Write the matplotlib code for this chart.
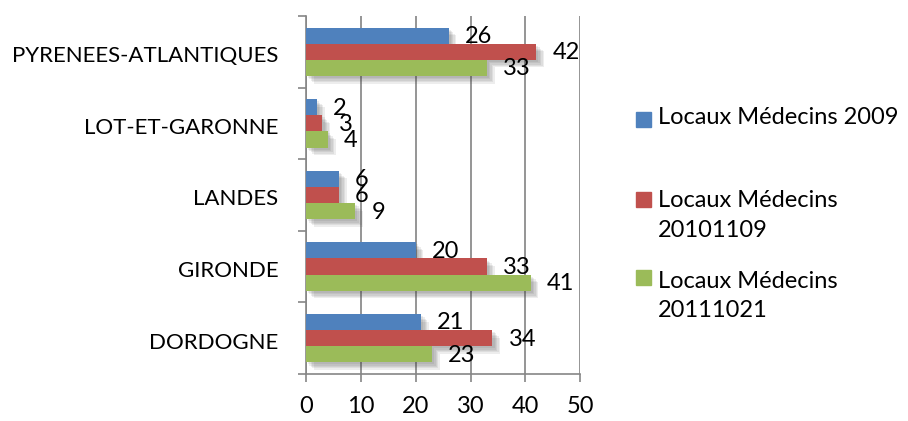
import matplotlib.pyplot as plt
import matplotlib.patheffects as pe
import matplotlib.transforms as mtransforms
from matplotlib.patches import Rectangle
import numpy as np

plt.rcParams['font.family'] = ['Lato', 'DejaVu Sans']

# departements, bottom to top
departements = ['DORDOGNE', 'GIRONDE', 'LANDES', 'LOT-ET-GARONNE', 'PYRENEES-ATLANTIQUES']
series_names = ['Locaux Médecins 2009', 'Locaux Médecins\n20101109', 'Locaux Médecins\n20111021']
locaux_2009 = [21, 20, 6, 2, 26]
locaux_20101109 = [34, 33, 6, 3, 42]
locaux_20111021 = [23, 41, 9, 4, 33]
colors = ['#4F81BD', '#C0504D', '#9BBB59']
x_ticks = [0, 10, 20, 30, 40, 50]

fig = plt.figure(figsize=(9.08, 4.21), dpi=100)
ax = fig.add_axes([0.337, 0.112, 0.302, 0.850])

y = np.arange(len(departements))
h = 0.225
# soft drop shadow built from a few stacked offsets
shadow = [pe.SimplePatchShadow(offset=(k, -k), shadow_rgbFace='#404040', alpha=0.09)
          for k in (1.5, 2.5, 3.5, 4.5, 5.5)] + [pe.Normal()]
series = [locaux_2009, locaux_20101109, locaux_20111021]
for i, vals in enumerate(series):
    pos = y + h - i * h
    bars = ax.barh(pos, vals, height=h, color=colors[i], zorder=3)
    for b in bars:
        b.set_path_effects(shadow)
    for p, v in zip(pos, vals):
        ax.annotate(str(v), (v, p), xytext=(16, -1), textcoords='offset pixels',
                    ha='left', va='center', fontsize=17, color='black', zorder=4)

ax.set_xlim(0, 50)
ax.set_ylim(-0.5, len(departements) - 0.5)
ax.set_xticks(x_ticks)
ax.set_xticklabels([str(t) for t in x_ticks], fontsize=17)
ax.set_yticks(y)
ax.set_yticklabels(departements, fontsize=16)
ax.set_yticks(np.arange(-0.5, len(departements)), minor=True)
ax.tick_params(axis='y', which='major', length=0, pad=20)
ax.tick_params(axis='y', which='minor', length=6, color='#868686', width=1.2)
ax.tick_params(axis='x', length=6, color='#868686', width=1.2, pad=10)
ax.xaxis.grid(True, color='#8C8C8C', linewidth=1.3, zorder=0)

# nudge category names slightly down
nudge = mtransforms.ScaledTranslation(0, -2.5 / 100, fig.dpi_scale_trans)
for lbl in ax.get_yticklabels():
    lbl.set_transform(lbl.get_transform() + nudge)

for s in ['top', 'right']:
    ax.spines[s].set_visible(False)
for s in ['left', 'bottom']:
    ax.spines[s].set_color('#868686')
    ax.spines[s].set_linewidth(1.2)

# legend drawn item by item
square_y = [0.717, 0.527, 0.340]
text_y = [0.721, 0.548, 0.357]
for name, c, sy, ty in zip(series_names, colors, square_y, text_y):
    fig.add_artist(Rectangle((0.700, sy - 0.0178), 0.0165, 0.0356, transform=fig.transFigure,
                             color=c))
    fig.text(0.7247, ty, name, fontsize=17, va='top' if '\n' in name else 'center',
             ha='left', linespacing=1.5)

fig.savefig('out.png', dpi=100)
